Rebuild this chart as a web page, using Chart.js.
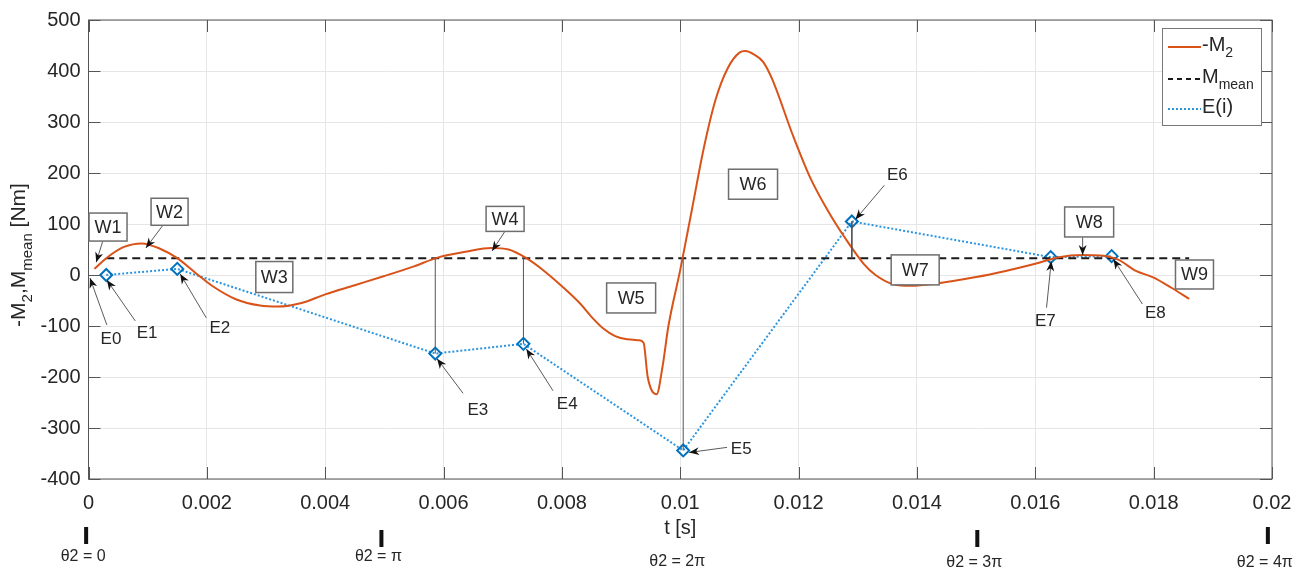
<!DOCTYPE html>
<html>
<head>
<meta charset="utf-8">
<script src="https://cdn.jsdelivr.net/npm/chart.js@4.4.0/dist/chart.umd.min.js"></script>
<style>
    html, body { margin: 0; padding: 0; background: #fff; }
    #wrap { width: 1306px; height: 571px; position: relative; }
</style>
</head>
<body>
<div id="wrap"><canvas id="grafico"></canvas></div>
<script>
// =========================
// DATOS
// =========================

const tM2 = [
    0.0001, 0.0003, 0.0006, 0.0009, 0.0012, 0.0015, 0.0018, 0.0021, 0.0025, 0.0029,
    0.0032, 0.0036, 0.0040, 0.0045, 0.0050, 0.0055, 0.0059, 0.0064, 0.0068, 0.0071,
    0.0074, 0.0077, 0.0080, 0.0083, 0.0085, 0.0087, 0.0089, 0.0091, 0.0093, 0.00938,
    0.00945, 0.0096, 0.0097, 0.0098, 0.0100, 0.0102, 0.0104, 0.0106, 0.0108, 0.0110,
    0.0111, 0.01125, 0.0114, 0.01155, 0.0119, 0.0122, 0.0125, 0.0128, 0.0131, 0.0133,
    0.0136, 0.0139, 0.0143, 0.0150, 0.0155, 0.0160, 0.0164, 0.0168, 0.0171, 0.0174,
    0.0177, 0.0180, 0.0183, 0.0186
];

const valM2 = [
    12, 33, 55, 62, 52, 33, 5, -22, -48, -60,
    -62, -55, -38, -20, -2, 17, 34, 46, 53, 50,
    33, 8, -22, -55, -82, -105, -120, -126, -128, -133,
    -200, -234, -180, -100, 10, 130, 250, 345, 405, 436,
    439, 432, 418, 385, 275, 190, 125, 70, 22, 0,
    -18, -21, -17, -4, 8, 22, 35, 39, 38, 30,
    8, -5, -25, -47
];

const mMean = 33;
const tMean = [0.0003, 0.0186];

// E1 ... E8
const tE = [0.0003, 0.0015, 0.00586, 0.00735, 0.01005, 0.0129, 0.01626, 0.01729];
const valE = [0, 12, -154, -135, -344, 105, 35, 37];
const connIdx = [2, 3, 4, 5];

const xTickLabels = ["0", "0.002", "0.004", "0.006", "0.008", "0.01", "0.012", "0.014", "0.016", "0.018", "0.02"];
const yTickLabels = ["-400", "-300", "-200", "-100", "0", "100", "200", "300", "400", "500"];

const thetaText = ["θ2 = 0", "θ2 = π", "θ2 = 2π", "θ2 = 3π", "θ2 = 4π"];
const thetaT = [-0.00004, 0.00495, 0.0100, 0.01502, 0.01993];

// anotaciones (posición en unidades de datos)
const wBoxes = [
    { txt: "W1", t: 0.00033, v: 94, w: 38, h: 28, arrow: [0.00024, 66, 0.00013, 25] },
    { txt: "W2", t: 0.00137, v: 124, w: 37, h: 27, arrow: [0.00126, 98, 0.00097, 53] },
    { txt: "W3", t: 0.00314, v: -4, w: 37, h: 31 },
    { txt: "W4", t: 0.00704, v: 110, w: 38, h: 25, arrow: [0.00704, 86, 0.00682, 47] },
    { txt: "W5", t: 0.00917, v: -45, w: 49, h: 30 },
    { txt: "W6", t: 0.01123, v: 178, w: 49, h: 30 },
    { txt: "W7", t: 0.01397, v: 10, w: 48, h: 30 },
    { txt: "W8", t: 0.01691, v: 104, w: 49, h: 30, arrow: [0.0168, 74, 0.0168, 39] },
    { txt: "W9", t: 0.01869, v: 1, w: 38, h: 29 }
];

const eLabels = [
    { txt: "E0", t: 0.00038, v: -127, arrow: [0.00031, -98, 0.000025, -6] },
    { txt: "E1", t: 0.00099, v: -115, arrow: [0.00079, -90, 0.00031, -10] },
    { txt: "E2", t: 0.00222, v: -104, arrow: [0.00199, -84, 0.00155, 2] },
    { txt: "E3", t: 0.00658, v: -266, arrow: [0.00633, -232, 0.00589, -164] },
    { txt: "E4", t: 0.00809, v: -254, arrow: [0.00785, -227, 0.0074, -145] },
    { txt: "E5", t: 0.01103, v: -342, arrow: [0.01079, -338, 0.01015, -348] },
    { txt: "E6", t: 0.01367, v: 195, arrow: [0.01345, 176, 0.01296, 109] },
    { txt: "E7", t: 0.01617, v: -90, arrow: [0.01619, -64, 0.01627, 27] },
    { txt: "E8", t: 0.01803, v: -76, arrow: [0.01781, -57, 0.01732, 31] }
];

// =========================
// UTILIDADES DE DIBUJO
// =========================

const FONT = "'Liberation Sans', Arial, sans-serif";

function richText(ctx, parts, x, y, size, align) {
    const big = size + "px " + FONT;
    const small = Math.round(size * 0.72) + "px " + FONT;
    let w = 0;
    parts.forEach(p => { ctx.font = p[1] ? small : big; w += ctx.measureText(p[0]).width; });
    let cx = align === "center" ? x - w / 2 : x;
    ctx.textAlign = "left";
    ctx.textBaseline = "middle";
    parts.forEach(p => {
        ctx.font = p[1] ? small : big;
        ctx.fillText(p[0], cx, p[1] ? y + size * 0.4 : y);
        cx += ctx.measureText(p[0]).width;
    });
    return w;
}

function arrow(ctx, x0, y0, x1, y1) {
    ctx.save();
    ctx.strokeStyle = "#5a5a5a";
    ctx.lineWidth = 1;
    ctx.setLineDash([]);
    ctx.beginPath();
    ctx.moveTo(x0, y0);
    ctx.lineTo(x1, y1);
    ctx.stroke();
    const a = Math.atan2(y1 - y0, x1 - x0);
    const L = 10, W = 4;
    const c = Math.cos(a), s = Math.sin(a);
    ctx.fillStyle = "#111";
    ctx.beginPath();
    ctx.moveTo(x1, y1);
    ctx.lineTo(x1 - L * c + W * s, y1 - L * s - W * c);
    ctx.lineTo(x1 - L * 0.7 * c, y1 - L * 0.7 * s);
    ctx.lineTo(x1 - L * c - W * s, y1 - L * s + W * c);
    ctx.closePath();
    ctx.fill();
    ctx.restore();
}

const extras = {
    id: "extras",
    afterDatasetsDraw(chart) {
        const { ctx, chartArea: a, scales: { x, y } } = chart;
        ctx.save();

        // caja de ejes + ticks interiores
        ctx.strokeStyle = "#555";
        ctx.lineWidth = 1;
        ctx.strokeRect(a.left, a.top, a.right - a.left, a.bottom - a.top);
        const tl = 12;
        ctx.beginPath();
        x.ticks.forEach(tk => {
            const px = Math.round(x.getPixelForValue(tk.value)) + 0.5;
            ctx.moveTo(px, a.bottom); ctx.lineTo(px, a.bottom - tl);
            ctx.moveTo(px, a.top); ctx.lineTo(px, a.top + tl);
        });
        y.ticks.forEach(tk => {
            const py = Math.round(y.getPixelForValue(tk.value)) + 0.5;
            ctx.moveTo(a.left, py); ctx.lineTo(a.left + tl, py);
            ctx.moveTo(a.right, py); ctx.lineTo(a.right - tl, py);
        });
        ctx.stroke();

        // flechas y cajas W
        wBoxes.forEach(b => {
            if (b.arrow) {
                arrow(ctx, x.getPixelForValue(b.arrow[0]), y.getPixelForValue(b.arrow[1]),
                    x.getPixelForValue(b.arrow[2]), y.getPixelForValue(b.arrow[3]));
            }
        });
        wBoxes.forEach(b => {
            const cx = x.getPixelForValue(b.t), cy = y.getPixelForValue(b.v);
            ctx.fillStyle = "#fff";
            ctx.strokeStyle = "#6e6e6e";
            ctx.lineWidth = 1.5;
            ctx.fillRect(cx - b.w / 2, cy - b.h / 2, b.w, b.h);
            ctx.strokeRect(cx - b.w / 2, cy - b.h / 2, b.w, b.h);
            ctx.fillStyle = "#262626";
            ctx.font = "18px " + FONT;
            ctx.textAlign = "center";
            ctx.textBaseline = "middle";
            ctx.fillText(b.txt, cx, cy + 1);
        });

        // etiquetas E
        eLabels.forEach(e => {
            arrow(ctx, x.getPixelForValue(e.arrow[0]), y.getPixelForValue(e.arrow[1]),
                x.getPixelForValue(e.arrow[2]), y.getPixelForValue(e.arrow[3]));
            ctx.fillStyle = "#262626";
            ctx.font = "17px " + FONT;
            ctx.textAlign = "center";
            ctx.textBaseline = "middle";
            ctx.fillText(e.txt, x.getPixelForValue(e.t), y.getPixelForValue(e.v));
        });

        ctx.restore();
    },
    afterDraw(chart) {
        const { ctx, chartArea: a, scales: { x } } = chart;
        ctx.save();

        // título eje Y
        ctx.fillStyle = "#262626";
        ctx.translate(19, 255);
        ctx.rotate(-Math.PI / 2);
        const parts = [["-M", 0], ["2", 1], [",M", 0], ["mean", 1], [" [Nm]", 0]];
        richText(ctx, parts, 0, 0, 21, "center");
        ctx.setTransform(1, 0, 0, 1, 0, 0);

        // título eje X
        ctx.font = "20px " + FONT;
        ctx.textAlign = "center";
        ctx.textBaseline = "middle";
        ctx.fillText("t [s]", x.getPixelForValue(0.01), a.bottom + 49);

        // marcas θ2
        const barTop = [48, 51, null, 51, 48];
        const txtY = [78, 78, 83, 84, 84];
        thetaText.forEach((s, i) => {
            const px = x.getPixelForValue(thetaT[i]);
            if (barTop[i] !== null) {
                ctx.fillStyle = "#111";
                ctx.fillRect(px - 2, a.bottom + barTop[i], 4, 17);
            }
            ctx.fillStyle = "#262626";
            ctx.font = "16px " + FONT;
            ctx.fillText(s, px - 3, a.bottom + txtY[i]);
        });

        // leyenda
        const lx = 1162, ly = 28, lw = 99, lh = 97;
        ctx.fillStyle = "#fff";
        ctx.fillRect(lx, ly, lw, lh);
        ctx.strokeStyle = "#777";
        ctx.lineWidth = 1;
        ctx.strokeRect(lx + 0.5, ly + 0.5, lw, lh);

        const rows = [
            { y: 47, color: "#D95319", dash: [], parts: [["-M", 0], ["2", 1]] },
            { y: 79, color: "#1a1a1a", dash: [5, 4], parts: [["M", 0], ["mean", 1]] },
            { y: 109, color: "#2a95e0", dash: [2, 2], parts: [["E(i)", 0]] }
        ];
        rows.forEach(r => {
            ctx.strokeStyle = r.color;
            ctx.lineWidth = 2;
            ctx.setLineDash(r.dash);
            ctx.beginPath();
            ctx.moveTo(1168, r.y);
            ctx.lineTo(1201, r.y);
            ctx.stroke();
            ctx.setLineDash([]);
            ctx.fillStyle = "#262626";
            richText(ctx, r.parts, 1202, r.y - 2, 20, "left");
        });

        ctx.restore();
    }
};

// =========================
// GRÁFICO
// =========================

const connectors = [];
connIdx.forEach(i => {
    connectors.push({ x: tE[i], y: valE[i] });
    connectors.push({ x: tE[i], y: mMean });
    connectors.push({ x: tE[i], y: null });
});

new Chart(document.getElementById("grafico"), {

    type: "line",

    data: {
        datasets: [
            {
                label: "conn",
                data: connectors,
                borderColor: "#555",
                borderWidth: 1,
                pointRadius: 0,
                spanGaps: false
            },
            {
                label: "-M2",
                data: tM2.map((t, i) => ({ x: t, y: valM2[i] })),
                borderColor: "#D95319",
                borderWidth: 2,
                pointRadius: 0,
                cubicInterpolationMode: "monotone"
            },
            {
                label: "Mmean",
                data: tMean.map(t => ({ x: t, y: mMean })),
                borderColor: "#1a1a1a",
                borderWidth: 2,
                borderDash: [8, 5],
                pointRadius: 0
            },
            {
                label: "E(i)",
                data: tE.map((t, i) => ({ x: t, y: valE[i] })),
                borderColor: "#2a95e0",
                borderWidth: 2,
                borderDash: [2, 2],
                pointStyle: "rectRot",
                pointRadius: 6,
                pointBorderColor: "#0072BD",
                pointBackgroundColor: "rgba(255,255,255,0)",
                pointBorderWidth: 2
            }
        ]
    },

    options: {
        responsive: true,
        maintainAspectRatio: false,
        animation: false,

        layout: {
            padding: { top: 17, right: 34, left: 0, bottom: 0 }
        },

        plugins: {
            legend: { display: false },
            tooltip: { enabled: false }
        },

        scales: {
            x: {
                type: "linear",
                min: 0,
                max: 0.02,
                afterFit: s => { s.height = 92; },
                ticks: {
                    stepSize: 0.002,
                    padding: 12,
                    color: "#262626",
                    font: { family: FONT, size: 20 },
                    callback: (v, i) => xTickLabels[i]
                },
                grid: { color: "#e6e6e6", drawTicks: false },
                border: { display: false }
            },
            y: {
                min: -400,
                max: 500,
                afterFit: s => { s.width = 88.5; },
                ticks: {
                    stepSize: 100,
                    padding: 8,
                    color: "#262626",
                    font: { family: FONT, size: 20 },
                    callback: (v, i) => yTickLabels[i]
                },
                grid: { color: "#e6e6e6", drawTicks: false },
                border: { display: false }
            }
        }
    },

    plugins: [extras]

});
</script>
</body>
</html>
